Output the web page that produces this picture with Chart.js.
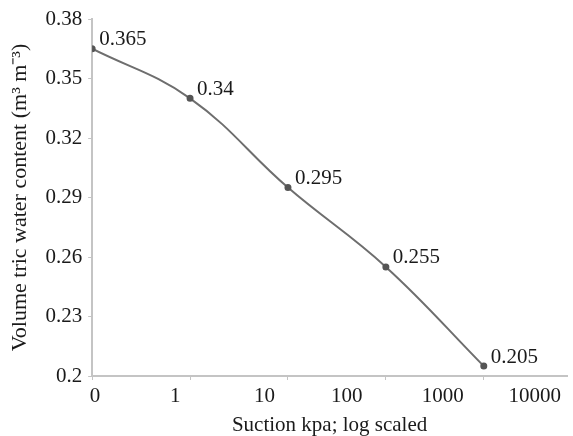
<!DOCTYPE html>
<html>
<head>
<meta charset="utf-8">
<script src="https://cdn.jsdelivr.net/npm/chart.js@4.4.1/dist/chart.umd.min.js"></script>
<style>
    html, body { margin: 0; padding: 0; background: #fff; }
    #wrap { width: 573px; height: 436px; }
</style>
</head>
<body>
<div id="wrap"><canvas id="retentionChart" width="573" height="436"></canvas></div>
<script>
// Soil water retention - volumetric water content vs suction

// point index along the x axis and the measured water content
const pointIdx = [0, 1, 2, 3, 4];
const waterContent = [0.365, 0.34, 0.295, 0.255, 0.205];

// y axis ticks
const yTicks = [0.2, 0.23, 0.26, 0.29, 0.32, 0.35, 0.38];

// suction tick labels and where they sit (in point-index units)
const xLabels = ['0', '1', '10', '100', '1000', '10000'];
const xLabelPos = [0.03, 0.85, 1.76, 2.6, 3.58, 4.52];

const FONT = "'Liberation Serif', 'Times New Roman', serif";
const AXIS_GREY = '#c4c4c4';
const TEXT = '#1a1a1a';

// draws the value next to each point
const valueLabels = {
    id: 'valueLabels',
    afterDatasetsDraw(chart) {
        const ctx = chart.ctx;
        const meta = chart.getDatasetMeta(0);
        ctx.save();
        ctx.font = '21px ' + FONT;
        ctx.fillStyle = TEXT;
        ctx.textAlign = 'left';
        ctx.textBaseline = 'middle';
        meta.data.forEach((pt, i) => {
            ctx.fillText(String(waterContent[i]), pt.x + 7, pt.y - 9);
        });
        ctx.restore();
    }
};

const ctx = document.getElementById('retentionChart').getContext('2d');
new Chart(ctx, {
    type: 'line',
    data: {
        datasets: [{
            data: pointIdx.map((x, i) => ({ x: x, y: waterContent[i] })),
            borderColor: '#6e6e6e',
            borderWidth: 2,
            tension: 0.4,
            pointRadius: 2.5,
            pointBackgroundColor: '#555',
            pointBorderColor: '#555',
            fill: false
        }]
    },
    options: {
        responsive: false,
        animation: false,
        layout: { padding: { top: 19, right: 0, left: 7, bottom: 0 } },
        plugins: {
            legend: { display: false },
            tooltip: { enabled: false }
        },
        scales: {
            x: {
                type: 'linear',
                position: 'bottom',
                min: 0,
                max: 4.85,
                afterBuildTicks: axis => { axis.ticks = pointIdx.map(v => ({ value: v })); },
                ticks: { display: false },
                grid: { drawOnChartArea: false, drawTicks: true, tickLength: 4, color: AXIS_GREY },
                border: { color: AXIS_GREY, width: 2 }
            },
            x2: {
                type: 'linear',
                position: 'bottom',
                min: 0,
                max: 4.85,
                afterBuildTicks: axis => { axis.ticks = xLabelPos.map(v => ({ value: v })); },
                ticks: {
                    autoSkip: false,
                    maxRotation: 0,
                    padding: 6,
                    color: TEXT,
                    font: { family: FONT, size: 21, lineHeight: 1 },
                    callback: (v, i) => xLabels[i]
                },
                grid: { display: false, drawTicks: false },
                border: { display: false },
                title: {
                    display: true,
                    text: 'Suction kpa; log scaled',
                    color: TEXT,
                    font: { family: FONT, size: 21, lineHeight: 1 },
                    padding: { top: 2, bottom: 0 }
                }
            },
            y: {
                min: 0.2,
                max: 0.38,
                afterBuildTicks: axis => { axis.ticks = yTicks.map(v => ({ value: v })); },
                ticks: {
                    padding: 6,
                    color: TEXT,
                    font: { family: FONT, size: 21 },
                    callback: v => String(+v.toFixed(2))
                },
                grid: { drawOnChartArea: false, drawTicks: true, tickLength: 4, color: AXIS_GREY },
                border: { color: AXIS_GREY, width: 2 },
                title: {
                    display: true,
                    text: 'Volume tric water content (m³ m⁻³)',
                    color: TEXT,
                    font: { family: FONT, size: 22 },
                    padding: { top: 0, bottom: 6 }
                }
            }
        }
    },
    plugins: [valueLabels]
});
</script>
</body>
</html>
